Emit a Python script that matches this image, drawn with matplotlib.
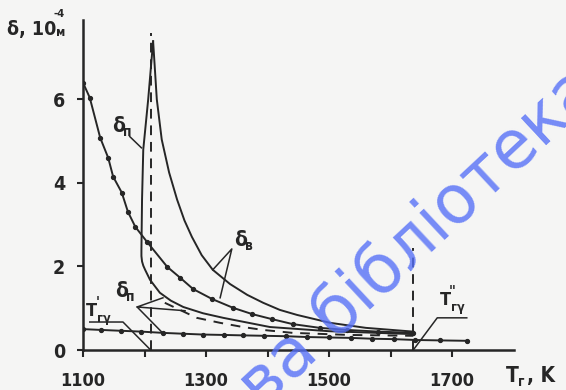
import numpy as np
import matplotlib.pyplot as plt

# T_g, K  /  delta, 1e-4 m
# delta_v, curve with dots
T_vd = [1100, 1111, 1128, 1141, 1149, 1163, 1173, 1185, 1204, 1237, 1258, 1279,
        1310, 1344, 1375, 1407, 1441, 1485, 1530, 1580, 1637]
d_vd = [6.40, 6.04, 5.08, 4.60, 4.15, 3.77, 3.31, 2.95, 2.59, 1.99, 1.73, 1.46,
        1.22, 1.01, 0.86, 0.74, 0.62, 0.53, 0.48, 0.44, 0.41]

# delta_v, solid curve from the peak
T_vs = [1214, 1217, 1220, 1228, 1240, 1253, 1265, 1277, 1293, 1311, 1339, 1367,
        1393, 1420, 1448, 1502, 1560, 1637]
d_vs = [7.39, 6.70, 6.00, 5.04, 4.25, 3.60, 3.10, 2.71, 2.27, 1.92, 1.58, 1.32,
        1.13, 0.96, 0.84, 0.65, 0.53, 0.44]

# delta_p, steep solid curve
T_ps = [1214, 1206, 1198, 1196, 1195, 1195, 1196, 1198, 1201, 1209, 1225, 1243,
        1263, 1295, 1328, 1404, 1500, 1637]
d_ps = [7.39, 6.00, 4.80, 3.60, 2.40, 2.25, 2.12, 2.02, 1.92, 1.68, 1.37, 1.18,
        1.03, 0.88, 0.77, 0.55, 0.45, 0.38]

# delta_p, dashed curve
T_pd = [1233, 1285, 1323, 1360, 1393, 1441, 1534, 1637]
d_pd = [1.13, 0.77, 0.65, 0.55, 0.48, 0.41, 0.36, 0.34]

# delta_p, lower curve with dots
T_pb = [1100, 1130, 1162, 1195, 1230, 1262, 1295, 1330, 1360, 1395, 1430, 1465,
        1500, 1535, 1570, 1605, 1640, 1680, 1724]
d_pb = [0.50, 0.48, 0.46, 0.44, 0.41, 0.39, 0.37, 0.36, 0.35, 0.34, 0.33, 0.31,
        0.30, 0.29, 0.27, 0.26, 0.24, 0.23, 0.22]

T_g1 = 1210   # T'_g gamma
T_g2 = 1637   # T''_g gamma

x_ticks = [1100, 1200, 1300, 1400, 1500, 1600, 1700]
x_labels = ['1100', '', '1300', '', '1500', '', '1700']
y_ticks = [0, 2, 4, 6]

W, H = 566, 390
ink = '#262626'
tfont = dict(family='DejaVu Sans', fontstretch='condensed', fontweight='bold', color=ink)

def fx(x, y):
    return x / W, 1 - y / H

fig = plt.figure(figsize=(W / 100, H / 100), dpi=100, facecolor='#f5f5f4')
ax = fig.add_axes([83 / W, 1 - 350 / H, (513.5 - 83) / W, 330 / H])
ax.set_facecolor('none')
ax.set_xlim(1100, 1800)
ax.set_ylim(0, 7.9)

for s in ['top', 'right']:
    ax.spines[s].set_visible(False)
for s in ['left', 'bottom']:
    ax.spines[s].set_linewidth(1.8)
    ax.spines[s].set_color(ink)

ax.set_xticks(x_ticks)
ax.set_xticklabels(x_labels)
ax.set_yticks(y_ticks)
ax.tick_params(axis='x', length=5, width=1.5, pad=11, colors=ink, labelsize=13)
ax.tick_params(axis='y', length=4, width=1.5, pad=9, colors=ink, labelsize=14)
for lab in ax.get_xticklabels() + ax.get_yticklabels():
    lab.set_family('DejaVu Sans')
    lab.set_stretch('condensed')
    lab.set_fontweight('bold')

# curves
ax.plot(T_vd, d_vd, color=ink, lw=1.4, marker='o', ms=2.8)
ax.plot(T_vs, d_vs, color=ink, lw=1.4)
ax.plot(T_ps, d_ps, color=ink, lw=1.4)
ax.plot(T_pd, d_pd, color=ink, lw=1.4, ls=(0, (5, 4)))
ax.plot(T_pb, d_pb, color=ink, lw=1.4, marker='o', ms=2.8)

# vertical dashed lines
ax.plot([T_g1, T_g1], [0, 7.6], color=ink, lw=1.4, ls=(0, (5, 3.5)))
ax.plot([T_g2, T_g2], [0, 2.45], color=ink, lw=1.4, ls=(0, (5, 3.5)))

# leader lines
lk = dict(color=ink, lw=1.1)
ax.plot([1111, 1165, T_g1], [0.67, 0.67, 0], **lk)
ax.plot([1724, 1676, T_g2], [0.77, 0.77, 0], **lk)
ax.plot([1176, 1195], [5.11, 4.84], **lk)
ax.plot([1311, 1342, 1323], [1.92, 2.42, 1.25], **lk)
ax.plot([1230, 1188, 1266], [1.25, 1.03, 0.94], **lk)
ax.plot([1188, 1228], [1.03, 0.43], **lk)

# curve labels
def delta(x, y, sub):
    fig.text(*fx(x, y), 'δ', fontsize=15, ha='left', va='baseline', **tfont)
    fig.text(*fx(x + 11, y + 4), sub, fontsize=10, ha='left', va='baseline', **tfont)

delta(112, 132, 'п')
delta(234, 246, 'в')
delta(115, 297, 'п')

fig.text(*fx(86, 316), "T", fontsize=13, ha='left', va='baseline', **tfont)
fig.text(*fx(96, 306), "'", fontsize=10, ha='left', va='baseline', **tfont)
fig.text(*fx(97, 322), "гγ", fontsize=9, ha='left', va='baseline', **tfont)
fig.text(*fx(440, 305), "T", fontsize=13, ha='left', va='baseline', **tfont)
fig.text(*fx(449, 295), "''", fontsize=10, ha='left', va='baseline', **tfont)
fig.text(*fx(451, 311), "гγ", fontsize=9, ha='left', va='baseline', **tfont)

# axis titles
fig.text(*fx(7, 35), 'δ, 10', fontsize=14, ha='left', va='baseline', **tfont)
fig.text(*fx(54, 17), '-4', fontsize=8, ha='left', va='baseline', **tfont)
fig.text(*fx(56, 36), 'м', fontsize=9, ha='left', va='baseline', **tfont)
fig.text(*fx(506, 382), 'T', fontsize=15, ha='left', va='baseline', **tfont)
fig.text(*fx(518, 386), 'г', fontsize=10, ha='left', va='baseline', **tfont)
fig.text(*fx(527, 382), ', K', fontsize=15, ha='left', va='baseline', **tfont)

# library stamp across the scan
fig.text(*fx(262, 410), 'ва бібліотека', fontsize=48,
         color='#5670f7', alpha=0.8, rotation=43, rotation_mode='anchor',
         ha='left', va='baseline')

fig.savefig('out.png', dpi=100, facecolor=fig.get_facecolor())
